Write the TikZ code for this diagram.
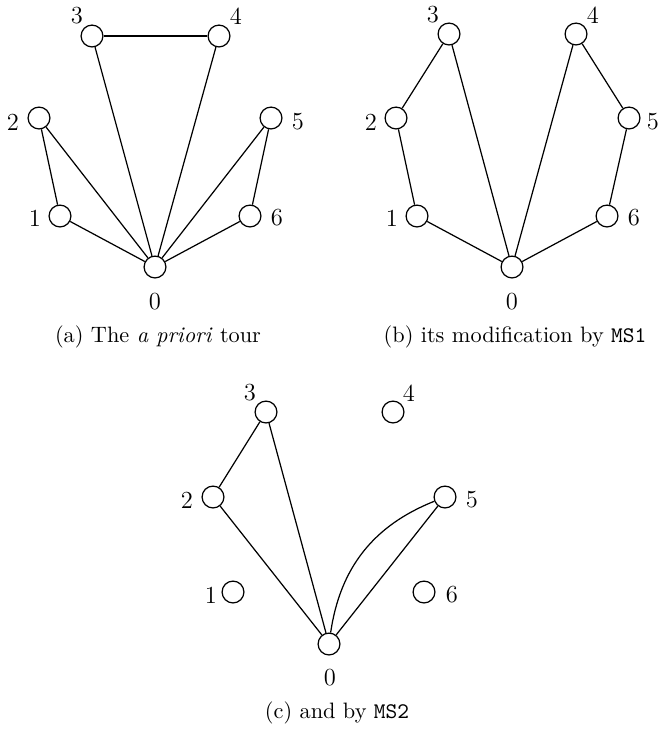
\documentclass[tikz,border=0pt]{standalone}
\begin{document}
\begin{tikzpicture}[x=0.4484pt, y=-0.4484pt,
  vtx/.style={circle, draw, fill=white, inner sep=0pt, minimum size=9.8pt, line width=0.55pt},
  lbl/.style={inner sep=0pt, font=\fontsize{11}{13}\selectfont},
  captxt/.style={inner sep=0pt, font=\normalsize},
  conn/.style={line width=0.55pt}]
\useasboundingbox (0,0) rectangle (661,729);
% ---------- panel (a)
\node[vtx] (a0) at (155,267) {};
\node[vtx] (a1) at (60,216) {};
\node[vtx] (a2) at (39,118) {};
\node[vtx] (a3) at (92,36) {};
\node[vtx] (a4) at (219,36) {};
\node[vtx] (a5) at (271,118) {};
\node[vtx] (a6) at (250,216) {};
\node[lbl] (la0) at (155,302) {0};
\node[lbl] (la1) at (35,218) {1};
\node[lbl] (la2) at (13,122) {2};
\node[lbl] (la3) at (77,16) {3};
\node[lbl] (la4) at (236,16) {4};
\node[lbl] (la5) at (298,122) {5};
\node[lbl] (la6) at (277,218) {6};
\draw[conn] (a3) -- (a4);
\draw[conn] (a3) -- (a0);
\draw[conn] (a4) -- (a0);
\draw[conn] (a2) -- (a1);
\draw[conn] (a2) -- (a0);
\draw[conn] (a1) -- (a0);
\draw[conn] (a5) -- (a6);
\draw[conn] (a5) -- (a0);
\draw[conn] (a6) -- (a0);
\node[captxt] (capa) at (158,337) {(a) The \textit{a priori} tour};
% ---------- panel (b)
\node[vtx] (b0) at (512,267) {};
\node[vtx] (b1) at (417,216) {};
\node[vtx] (b2) at (396,118) {};
\node[vtx] (b3) at (449,34) {};
\node[vtx] (b4) at (576,34) {};
\node[vtx] (b5) at (629,118) {};
\node[vtx] (b6) at (607,216) {};
\node[lbl] (lb0) at (512,302) {0};
\node[lbl] (lb1) at (392,218) {1};
\node[lbl] (lb2) at (371,122) {2};
\node[lbl] (lb3) at (433,15) {3};
\node[lbl] (lb4) at (593,15) {4};
\node[lbl] (lb5) at (653,122) {5};
\node[lbl] (lb6) at (634,218) {6};
\draw[conn] (b3) -- (b2);
\draw[conn] (b2) -- (b1);
\draw[conn] (b1) -- (b0);
\draw[conn] (b3) -- (b0);
\draw[conn] (b4) -- (b0);
\draw[conn] (b4) -- (b5);
\draw[conn] (b5) -- (b6);
\draw[conn] (b6) -- (b0);
\node[captxt] (capb) at (515,337) {(b) its modification by \texttt{MS1}};
% ---------- panel (c)
\node[vtx] (c0) at (329,644) {};
\node[vtx] (c1) at (233,592) {};
\node[vtx] (c2) at (213,497) {};
\node[vtx] (c3) at (266,412) {};
\node[vtx] (c4) at (393,412) {};
\node[vtx] (c5) at (445,497) {};
\node[vtx] (c6) at (424,592) {};
\node[lbl] (lc0) at (330,678) {0};
\node[lbl] (lc1) at (211,595) {1};
\node[lbl] (lc2) at (187,500) {2};
\node[lbl] (lc3) at (250,393) {3};
\node[lbl] (lc4) at (409,393) {4};
\node[lbl] (lc5) at (472,500) {5};
\node[lbl] (lc6) at (452,595) {6};
\draw[conn] (c3) -- (c2);
\draw[conn] (c2) -- (c0);
\draw[conn] (c3) -- (c0);
\draw[conn] (c5) -- (c0);
\draw[conn] (c0) to[bend left=30] (c5);
\node[captxt] (capc) at (337,713) {(c) and by \texttt{MS2}};
\end{tikzpicture}
\end{document}
